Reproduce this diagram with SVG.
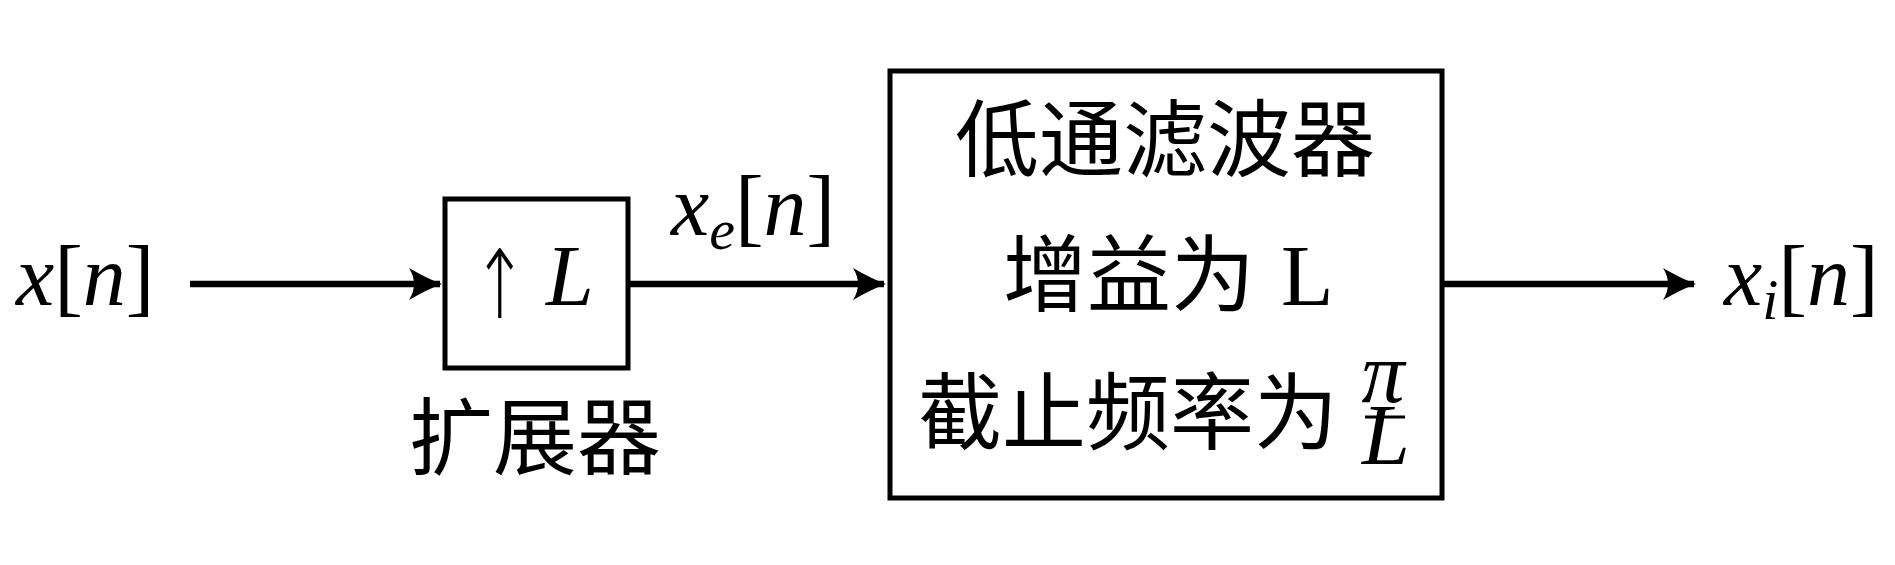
<svg xmlns="http://www.w3.org/2000/svg" width="1895" height="565" viewBox="0 0 1895 565">
<defs>
<style>
.box{fill:none;stroke:#000;stroke-width:5}
.wire{fill:none;stroke:#000;stroke-width:6.5}
.m{font-family:"Liberation Serif","DejaVu Serif",serif;font-size:86px;fill:#000}
.i{font-style:italic}
.cjk{font-family:"Noto Sans CJK SC","Noto Sans",sans-serif;font-size:84px;fill:#000}
</style>
<marker id="arr" markerUnits="userSpaceOnUse" markerWidth="40" markerHeight="40" viewBox="-36 -20 40 40" refX="0" refY="0" orient="auto">
<path d="M2,0 Q-12,-5 -31,-16 Q-21,0 -31,16 Q-12,5 2,0 Z" fill="#000"/>
</marker>
</defs>
<g id="connectors">
<line class="wire" x1="190" y1="284" x2="440" y2="284" marker-end="url(#arr)"/>
<line class="wire" x1="630" y1="284" x2="884" y2="284" marker-end="url(#arr)"/>
<line class="wire" x1="1444" y1="284" x2="1694" y2="284" marker-end="url(#arr)"/>
</g>
<g id="input">
<text class="m" x="16" y="305"><tspan class="i">x</tspan>[<tspan class="i">n</tspan>]</text>
</g>
<g id="expander">
<rect class="box" x="445" y="199" width="183" height="169"/>
<text x="0" y="0" transform="translate(472,318) scale(1,1.45)" style="font-family:'DejaVu Sans',sans-serif;font-size:66px;font-weight:200">↑</text>
<text class="m i" x="546" y="305">L</text>
<text class="cjk" x="535" y="468" text-anchor="middle">扩展器</text>
</g>
<g id="xe">
<text class="m" x="671" y="235"><tspan class="i">x</tspan><tspan class="i" font-size="58" dy="14">e</tspan><tspan dy="-14">[</tspan><tspan class="i">n</tspan>]</text>
</g>
<g id="lpf">
<rect class="box" x="890" y="71" width="552" height="427"/>
<text class="cjk" x="1165" y="170" text-anchor="middle">低通滤波器</text>
<text class="cjk" x="1003" y="305">增益为</text>
<text class="m" x="1281" y="305">L</text>
<text class="cjk" x="918" y="443">截止频率为</text>
<text class="m i" x="1383" y="402" font-size="48" text-anchor="middle">π</text>
<line x1="1365" y1="417" x2="1405" y2="417" stroke="#000" stroke-width="3"/>
<text class="m i" x="1386" y="464" font-size="52" text-anchor="middle">L</text>
</g>
<g id="output">
<text class="m" x="1724" y="305"><tspan class="i">x</tspan><tspan class="i" font-size="58" dy="14">i</tspan><tspan dy="-14">[</tspan><tspan class="i">n</tspan>]</text>
</g>
</svg>
